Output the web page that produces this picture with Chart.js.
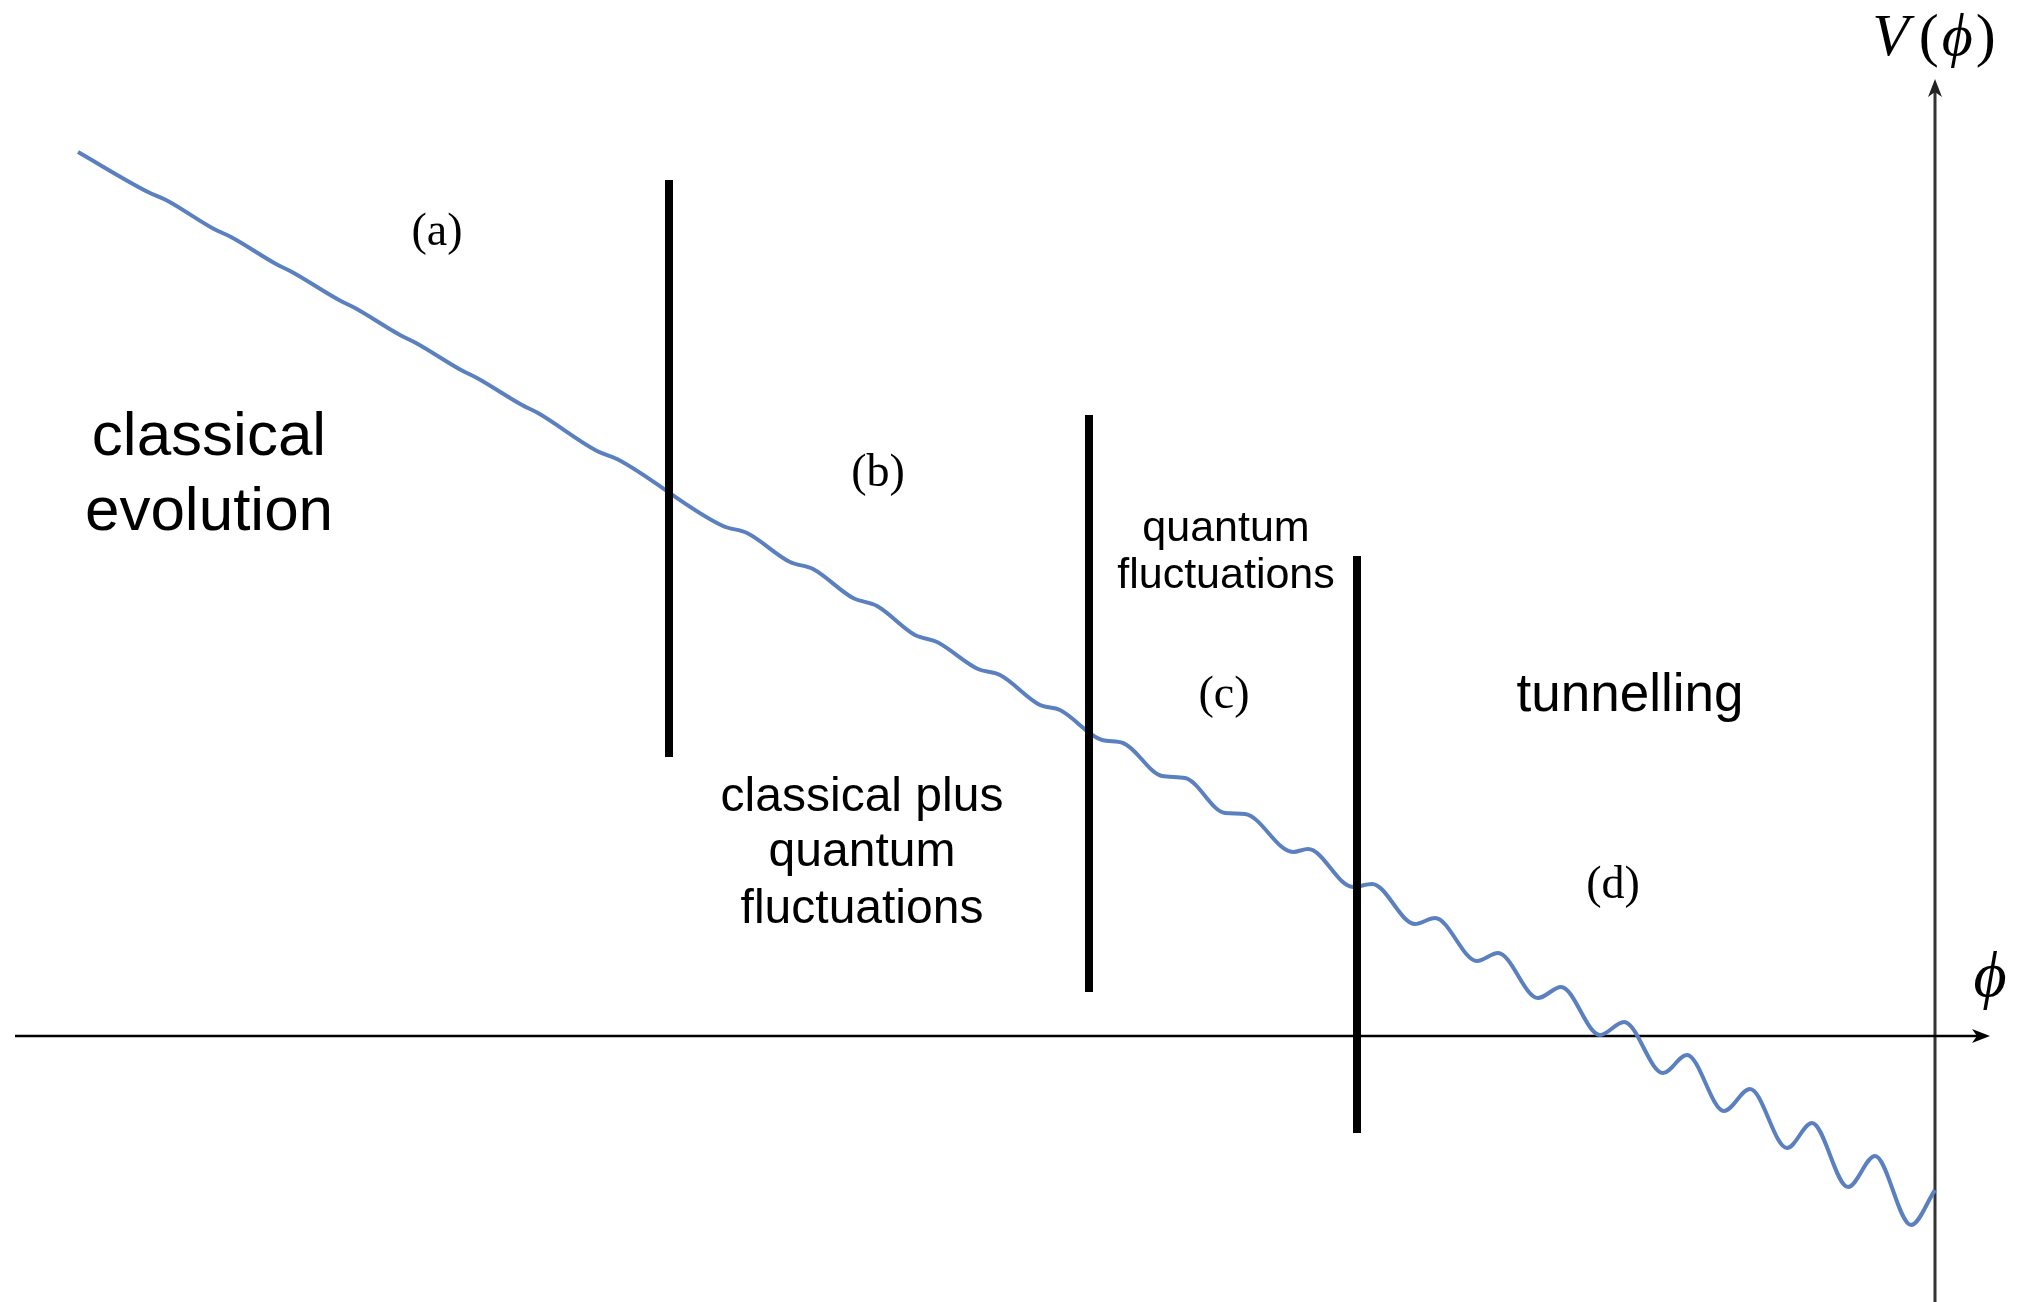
<!DOCTYPE html>
<html>
<head>
<meta charset="utf-8">
<script src="https://cdn.jsdelivr.net/npm/chart.js@4.4.1/dist/chart.umd.min.js"></script>
<style>
  html, body { margin: 0; padding: 0; background: #ffffff; }
  #wrap { width: 2020px; height: 1302px; }
</style>
</head>
<body>
<div id="wrap"><canvas id="myChart" width="2020" height="1302"></canvas></div>
<script>
// V(phi), phi = 0 at the V axis, V = 0 at the phi axis
var phiValues = [-18.57, -17.87, -17.69, -17.21, -17.04, -16.59, -16.43, -15.96, -15.80, -15.35,
                 -15.19, -14.74, -14.58, -14.13, -13.97, -13.38, -13.18, -12.12, -11.88, -11.45,
                 -11.22, -10.82, -10.58, -10.20, -9.98, -9.57, -9.35, -8.95, -8.75, -8.33,
                 -8.12, -7.73, -7.50, -7.10, -6.90, -6.42, -6.27, -5.82, -5.63, -5.20,
                 -5.00, -4.58, -4.37, -3.97, -3.74, -3.35, -3.11, -2.72, -2.48, -2.11,
                 -1.85, -1.48, -1.23, -0.87, -0.60, -0.24, 0.00];
var vValues = [8.84, 8.44, 8.36, 8.07, 7.99, 7.72, 7.64, 7.36, 7.28, 7.01,
               6.93, 6.66, 6.58, 6.31, 6.23, 5.85, 5.77, 5.10, 5.03, 4.74,
               4.67, 4.38, 4.30, 4.01, 3.94, 3.67, 3.61, 3.31, 3.26, 2.96,
               2.93, 2.60, 2.58, 2.23, 2.22, 1.84, 1.87, 1.49, 1.52, 1.12,
               1.18, 0.75, 0.83, 0.38, 0.49, 0.01, 0.14, -0.37, -0.19, -0.75,
               -0.53, -1.12, -0.87, -1.51, -1.20, -1.89, -1.54];

// region boundaries (a)|(b)|(c)|(d)
var boundaryPhi = [-12.66, -8.46, -5.78];
var boundaryTop = [8.56, 6.21, 4.80];
var boundaryBottom = [2.79, 0.44, -0.97];

// axes extent
var phiAxisRange = [-19.20, 0.55];
var vAxisRange = [-2.66, 9.57];

var curve = phiValues.map(function (p, i) { return { x: p, y: vValues[i] }; });

var boundarySets = boundaryPhi.map(function (p, i) {
    return {
        data: [{ x: p, y: boundaryTop[i] }, { x: p, y: boundaryBottom[i] }],
        borderColor: "#000000",
        borderWidth: 8,
        showLine: true,
        pointRadius: 0,
        order: 0
    };
});

var sans = "'Liberation Sans', Arial, sans-serif";
var serif = "'Liberation Serif', 'Times New Roman', serif";

var labels = [
    { text: "classical", phi: -17.26, v: 5.81, font: "62px " + sans },
    { text: "evolution", phi: -17.26, v: 5.06, font: "62px " + sans },
    { text: "(a)", phi: -14.98, v: 7.91, font: "46px " + serif },
    { text: "(b)", phi: -10.57, v: 5.50, font: "46px " + serif },
    { text: "quantum", phi: -7.09, v: 4.95, font: "43px " + sans },
    { text: "fluctuations", phi: -7.09, v: 4.48, font: "43px " + sans },
    { text: "(c)", phi: -7.11, v: 3.28, font: "46px " + serif },
    { text: "tunnelling", phi: -3.05, v: 3.25, font: "53px " + sans },
    { text: "(d)", phi: -3.22, v: 1.38, font: "46px " + serif },
    { text: "classical plus", phi: -10.73, v: 2.25, font: "48px " + sans },
    { text: "quantum", phi: -10.73, v: 1.70, font: "48px " + sans },
    { text: "fluctuations", phi: -10.73, v: 1.13, font: "48px " + sans }
];

function arrowHead(ctx, x, y, angle) {
    ctx.save();
    ctx.translate(x, y);
    ctx.rotate(angle);
    ctx.beginPath();
    ctx.moveTo(0, 0);
    ctx.lineTo(-18, -7);
    ctx.lineTo(-13, 0);
    ctx.lineTo(-18, 7);
    ctx.closePath();
    ctx.fill();
    ctx.restore();
}

var annotate = {
    id: "annotate",
    afterDatasetsDraw: function (chart) {
        var ctx = chart.ctx;
        var xs = chart.scales.x;
        var ys = chart.scales.y;
        ctx.save();
        ctx.fillStyle = "#000000";
        ctx.textAlign = "center";
        ctx.textBaseline = "alphabetic";
        labels.forEach(function (l) {
            ctx.font = l.font;
            ctx.fillText(l.text, xs.getPixelForValue(l.phi), ys.getPixelForValue(l.v));
        });

        // arrow heads
        arrowHead(ctx, xs.getPixelForValue(phiAxisRange[1]), ys.getPixelForValue(0), 0);
        ctx.fillStyle = "#222222";
        arrowHead(ctx, xs.getPixelForValue(0), ys.getPixelForValue(vAxisRange[1]), -Math.PI / 2);

        // V(phi) title at the top of the V axis
        ctx.fillStyle = "#000000";
        var parts = [
            { t: "V", f: "italic 60px " + serif, gap: 10 },
            { t: "(", f: "60px " + serif, gap: 3 },
            { t: "\u03D5", f: "italic 60px " + serif, gap: 3 },
            { t: ")", f: "60px " + serif, gap: 0 }
        ];
        var total = 0;
        parts.forEach(function (p) { ctx.font = p.f; p.w = ctx.measureText(p.t).width; total += p.w + p.gap; });
        var px = xs.getPixelForValue(-0.01) - total / 2;
        var py = ys.getPixelForValue(9.81);
        ctx.textAlign = "left";
        parts.forEach(function (p) { ctx.font = p.f; ctx.fillText(p.t, px, py); px += p.w + p.gap; });

        // phi label at the end of the phi axis
        ctx.textAlign = "center";
        ctx.font = "italic 64px " + serif;
        ctx.fillText("\u03D5", xs.getPixelForValue(0.55), ys.getPixelForValue(0.40));
        ctx.restore();
    }
};

var ctx = document.getElementById("myChart").getContext("2d");

new Chart(
  ctx,
  {
    type: "scatter",
    data: {
        datasets: boundarySets.concat([
            {
                label: "V(phi)",
                data: curve,
                borderColor: "#5b80bf",
                borderWidth: 4,
                showLine: true,
                pointRadius: 0,
                cubicInterpolationMode: "monotone",
                order: 1
            },
            {
                label: "phi axis",
                data: [{ x: phiAxisRange[0], y: 0 }, { x: phiAxisRange[1] - 0.1, y: 0 }],
                borderColor: "#000000",
                borderWidth: 2.5,
                showLine: true,
                pointRadius: 0,
                order: 2
            },
            {
                label: "V axis",
                data: [{ x: 0, y: vAxisRange[0] }, { x: 0, y: vAxisRange[1] - 0.1 }],
                borderColor: "#333333",
                borderWidth: 3,
                showLine: true,
                pointRadius: 0,
                order: 2
            }
        ])
    },
    options: {
        responsive: false,
        animation: false,
        devicePixelRatio: 1,
        layout: { padding: 0 },
        scales: {
            x: { type: "linear", display: false, min: -19.35, max: 0.85 },
            y: { type: "linear", display: false, min: -2.66, max: 10.36 }
        },
        plugins: {
            legend: { display: false },
            tooltip: { enabled: false }
        }
    },
    plugins: [annotate]
  }
);
</script>
</body>
</html>
